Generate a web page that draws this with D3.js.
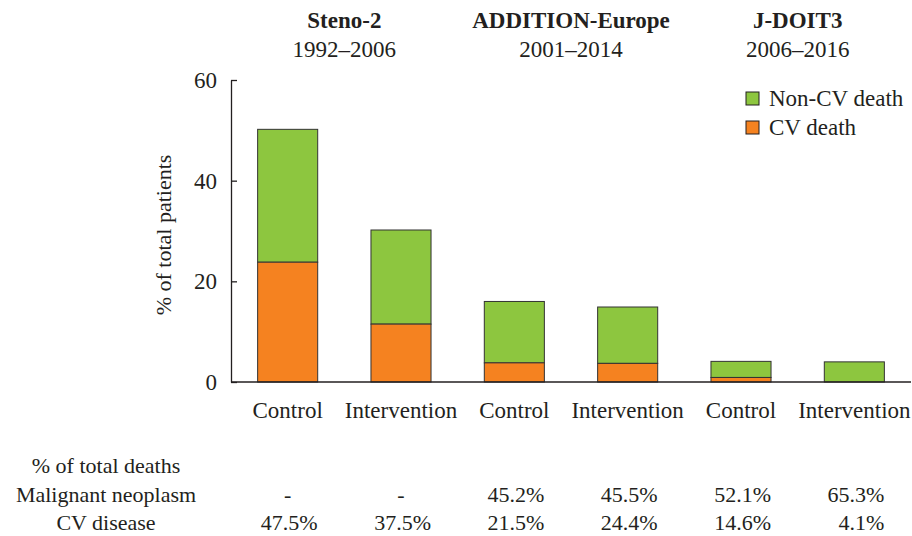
<!DOCTYPE html>
<html><head><meta charset="utf-8">
<script src="https://cdn.jsdelivr.net/npm/d3@7/dist/d3.min.js"></script>
<style>
body{margin:0;background:#fff;}
text{font-family:"Liberation Serif","DejaVu Serif",serif;fill:#231f20;}
</style></head>
<body><svg id="c" width="912" height="536"></svg>
<script>
const categories = ["Control","Intervention","Control","Intervention","Control","Intervention"];
const cvDeath = [23.8, 11.5, 3.8, 3.7, 0.9, 0.0];
const nonCvDeath = [26.4, 18.7, 12.2, 11.2, 3.2, 4.0];
const studies = ["Steno-2","ADDITION-Europe","J-DOIT3"];
const studyYears = ["1992\u20132006","2001\u20132014","2006\u20132016"];
const yTicks = [0,20,40,60];
const rowLabels = ["% of total deaths","Malignant neoplasm","CV disease"];
const malignant = ["-","-","45.2%","45.5%","52.1%","65.3%"];
const cvDisease = ["47.5%","37.5%","21.5%","24.4%","14.6%","4.1%"];
const seriesNames = ["Non-CV death","CV death"];
const colors = {cv:"#f58220", noncv:"#8dc63f"};

const svg = d3.select("#c");
const x = d3.scaleBand().domain(d3.range(categories.length)).range([231, 911]).paddingInner(0.47).paddingOuter(0.235);
const y = d3.scaleLinear().domain([0,60]).range([382, 80]);

// y axis
const yAxis = svg.append("g").attr("transform","translate(231,0)")
  .call(d3.axisLeft(y).tickValues(yTicks).tickSize(-6).tickPadding(14).tickSizeOuter(0));
yAxis.select(".domain").attr("stroke","#231f20").attr("stroke-width",1.3);
yAxis.selectAll(".tick line").attr("stroke","#231f20").attr("stroke-width",1.3);
yAxis.selectAll("text").attr("font-size",23).attr("fill","#231f20");

svg.append("text").attr("transform","translate(171,235) rotate(-90)")
  .attr("text-anchor","middle").attr("font-size",22).text("% of total patients");

// bars
const data = categories.map((c,i)=>({i, cv:cvDeath[i], non:nonCvDeath[i]}));
const g = svg.append("g");
g.selectAll("rect.non").data(data).join("rect")
  .attr("x",d=>x(d.i)).attr("width",x.bandwidth())
  .attr("y",d=>y(d.cv+d.non)).attr("height",d=>y(d.cv)-y(d.cv+d.non))
  .attr("fill",colors.noncv).attr("stroke","#333").attr("stroke-width",1);
g.selectAll("rect.cv").data(data.filter(d=>d.cv>0)).join("rect")
  .attr("x",d=>x(d.i)).attr("width",x.bandwidth())
  .attr("y",d=>y(d.cv)).attr("height",d=>y(0)-y(d.cv))
  .attr("fill",colors.cv).attr("stroke","#333").attr("stroke-width",1);

// x axis line
svg.append("line").attr("x1",231).attr("x2",911).attr("y1",y(0)).attr("y2",y(0))
  .attr("stroke","#231f20").attr("stroke-width",1.5);

// category labels
svg.append("g").selectAll("text").data(categories).join("text")
  .attr("x",(d,i)=>x(i)+x.bandwidth()/2).attr("y",418)
  .attr("text-anchor","middle").attr("font-size",23).text(d=>d);

// study headers
studies.forEach((s,k)=>{
  const cx = (x(2*k)+x(2*k+1)+x.bandwidth())/2;
  svg.append("text").attr("x",cx).attr("y",28).attr("text-anchor","middle")
    .attr("font-size",23).attr("font-weight","bold").text(s);
  svg.append("text").attr("x",cx).attr("y",57).attr("text-anchor","middle")
    .attr("font-size",23).text(studyYears[k]);
});

// legend
const lg = svg.append("g").attr("transform","translate(746,92)");
seriesNames.forEach((n,k)=>{
  lg.append("rect").attr("x",0).attr("y",k*29).attr("width",13).attr("height",13)
    .attr("fill",k===0?colors.noncv:colors.cv).attr("stroke","#231f20").attr("stroke-width",1);
  lg.append("text").attr("x",23).attr("y",k*29+14).attr("font-size",23).text(n);
});

// table
const rowsY = [473, 502, 530];
rowLabels.forEach((r,k)=>{
  svg.append("text").attr("x",106).attr("y",rowsY[k]).attr("text-anchor","middle").attr("font-size",22).text(r);
});
[malignant, cvDisease].forEach((arr,k)=>{
  svg.append("g").selectAll("text").data(arr).join("text")
    .attr("x",(d,i)=> d==="-" ? x(i)+x.bandwidth()/2 : x(i)+x.bandwidth())
    .attr("y",rowsY[k+1]).attr("text-anchor",d=>d==="-"?"middle":"end")
    .attr("font-size",22).text(d=>d);
});
</script></body></html>
